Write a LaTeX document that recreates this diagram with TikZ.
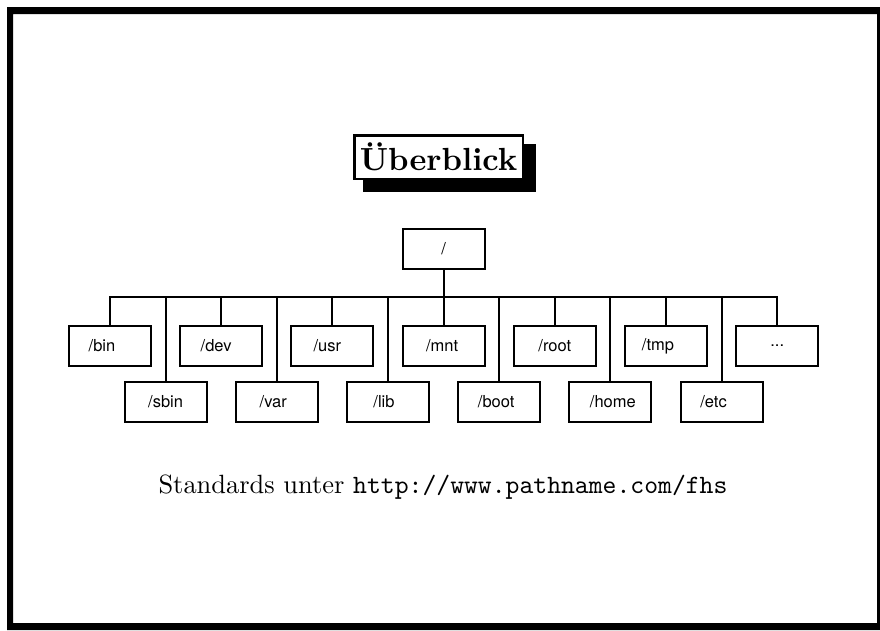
\documentclass[tikz,border=0pt]{standalone}
\usepackage{graphicx}
\usepackage{fontspec}
\newfontfamily\boxfont{TeX Gyre Heros}
\usetikzlibrary{backgrounds}
% label text placed with its centre moved sideways by #1
\newcommand\dirlabel[2]{\makebox[0pt]{\hspace*{#1}#2}}
\begin{document}
\begin{tikzpicture}[x=1pt,y=-1pt,
  wire/.style={line width=2pt},
  dirbox/.style={draw, line width=2pt, minimum width=82pt, minimum height=40pt,
    inner sep=0pt, font=\boxfont\fontsize{16.5}{18}\selectfont},
  titlebox/.style={draw, line width=2.5pt, fill=white, minimum width=168.5pt,
    minimum height=43.5pt, inner sep=0pt}
]
\useasboundingbox (0,0) rectangle (880,630);
% page frame, kept inside the page
\fill[even odd rule] (7,7) rectangle (880,630) (13,14) rectangle (877,623);

% heading with its solid shadow
\node[titlebox] (title) at (438.5,157) {\scalebox{3.2}{\bfseries Überblick}};
\begin{pgfonlayer}{background}
  \fill ([shift={(9.75,9.75)}]title.north west) rectangle ([shift={(12.25,12.25)}]title.south east);
\end{pgfonlayer}

% directory tree
\node[dirbox] (top) at (443.6,248.5) {/};
\coordinate (bus) at (0,297);

\node[dirbox] (bin)     at (110,346)     {\dirlabel{-16pt}{/bin}};
\node[dirbox] (sbin)    at (165.6,401.5) {\dirlabel{0pt}{/sbin}};
\node[dirbox] (dev)     at (221.2,346)   {\dirlabel{-10pt}{/dev}};
\node[dirbox] (var)     at (276.8,401.5) {\dirlabel{-7pt}{/var}};
\node[dirbox] (usr)     at (332.4,346)   {\dirlabel{-10pt}{/usr}};
\node[dirbox] (lib)     at (388,401.5)   {\dirlabel{-8pt}{/lib}};
\node[dirbox] (mnt)     at (443.6,346)   {\dirlabel{-3pt}{/mnt}};
\node[dirbox] (boot)    at (499.2,401.5) {\dirlabel{-6pt}{/boot}};
\node[dirbox] (rootdir) at (554.8,346)   {\dirlabel{0pt}{/root}};
\node[dirbox] (home)    at (610.4,401.5) {\dirlabel{5pt}{/home}};
\node[dirbox] (tmp)     at (666,346)     {\dirlabel{-16pt}{/tmp}};
\node[dirbox] (etc)     at (721.6,401.5) {\dirlabel{-16pt}{/etc}};
\node[dirbox] (more)    at (777.2,346)   {\dirlabel{0pt}{...}};

\draw[wire] (top.south) -- (top.south |- bus);
\draw[wire] (bin.north) -- (bin.north |- bus) -- (more.north |- bus) -- (more.north);
\foreach \d in {sbin,dev,var,usr,lib,mnt,boot,rootdir,home,tmp,etc}
  \draw[wire] (\d.north) -- (\d.north |- bus);

% reference line
\node[anchor=base, scale=2.64, inner sep=0pt] (ref) at (443,493)
  {Standards unter \texttt{http://www.pathname.com/fhs}};
\end{tikzpicture}
\end{document}
